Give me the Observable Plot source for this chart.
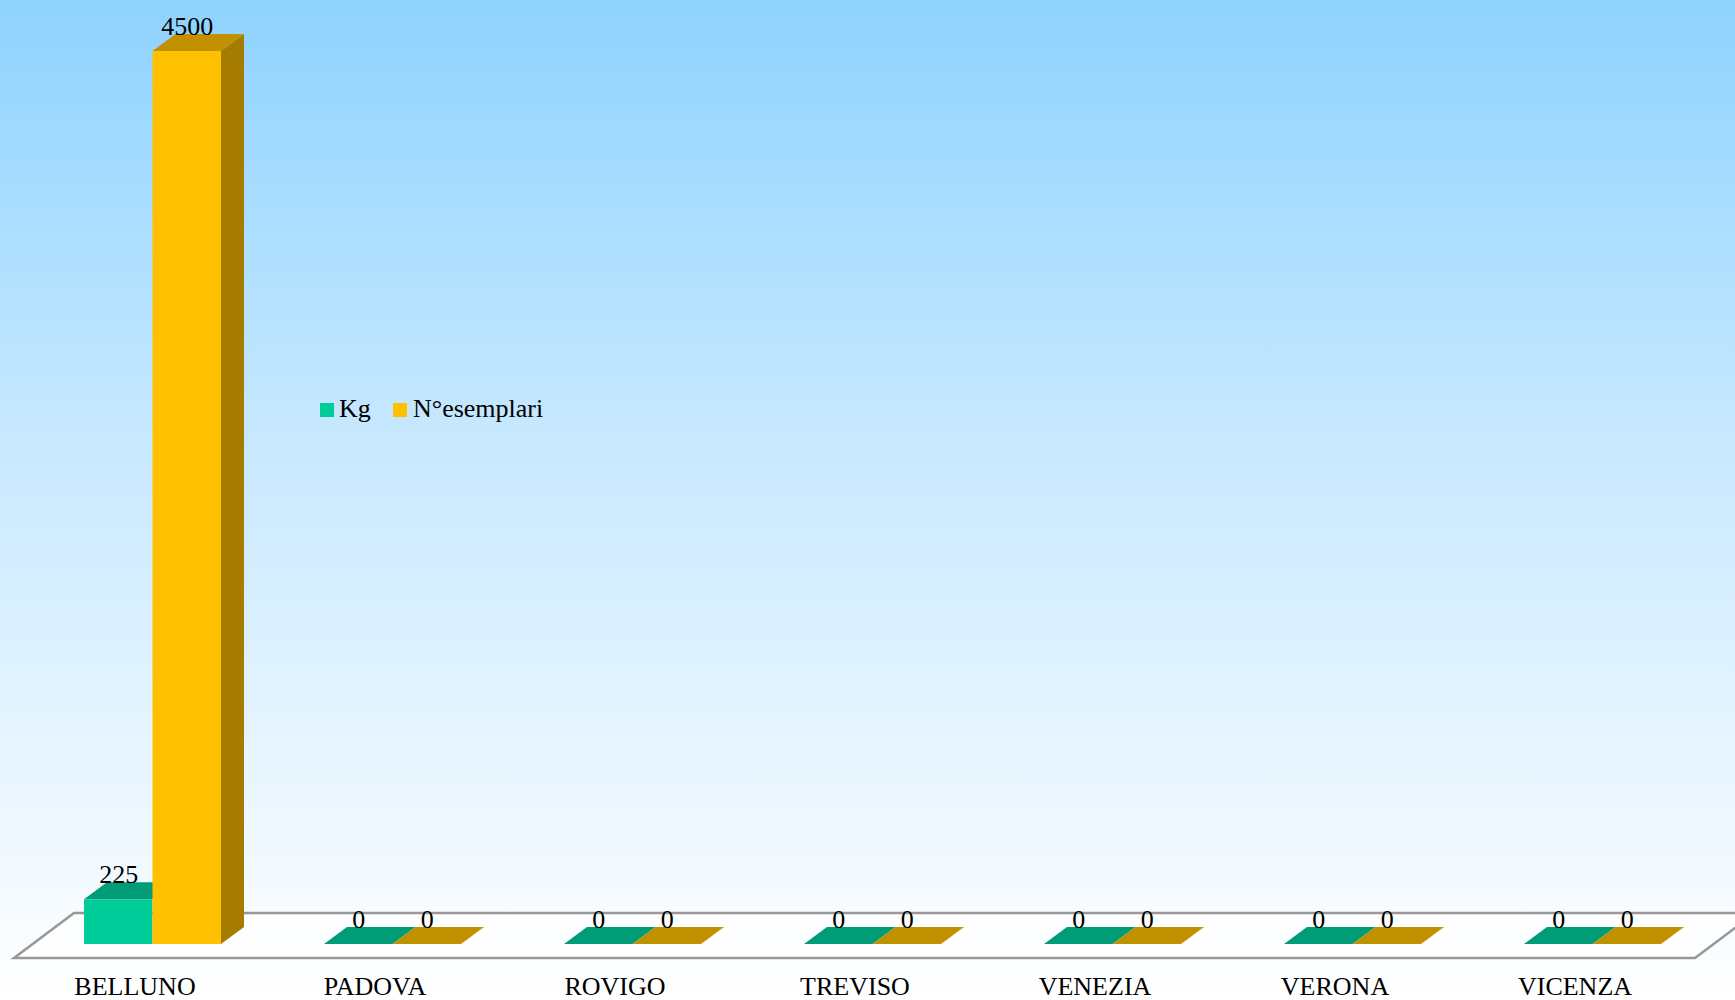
<!DOCTYPE html>
<html>
<head>
<meta charset="utf-8">
<script src="https://cdn.jsdelivr.net/npm/d3@7"></script>
<script src="https://cdn.jsdelivr.net/npm/@observablehq/plot@0.6"></script>
<style>
  html, body { margin: 0; padding: 0; }
  body {
    width: 1735px; height: 1000px; position: relative; overflow: hidden;
    background: linear-gradient(to bottom, #8ed3fe 0%, #c9e9ff 45%, #ffffff 100%);
    font-family: "Liberation Serif", "Times New Roman", serif;
  }
  #chart { position: absolute; left: 0; top: 0; }
  .lg-sw { position: absolute; width: 14px; height: 14px; }
  .lg-tx { position: absolute; font-size: 26px; line-height: 26px; color: #000; white-space: nowrap; }
</style>
</head>
<body>
<div id="chart"></div>
<div id="legend"></div>
<script>
// ---- data ----
const categories = ["BELLUNO", "PADOVA", "ROVIGO", "TREVISO", "VENEZIA", "VERONA", "VICENZA"];
const seriesNames = ["Kg", "N°esemplari"];
const kgValues = [225, 0, 0, 0, 0, 0, 0];
const esemplariValues = [4500, 0, 0, 0, 0, 0, 0];

// ---- styles ----
const frontColors = ["#00cc99", "#ffc000"];
const topColors = ["#009b77", "#c29100"];
const sideColors = ["#007a5e", "#a67c00"];

// ---- layout ----
const W = 1735, H = 1000;
const mL = 84, mR = 74, mT = 51, mB = 56;
const padInner = 103 / 240;
const step = (W - mL - mR) / (categories.length - padInner);
const bw = step * (1 - padInner);
const half = bw / 2;
const DX = 23, DY = -17; // 3D depth offset

const rows = [];
categories.forEach((c, i) => {
  rows.push({category: c, series: seriesNames[0], s: 0, value: kgValues[i]});
  rows.push({category: c, series: seriesNames[1], s: 1, value: esemplariValues[i]});
});
const kgRows = rows.filter(d => d.s === 0);
const esRows = rows.filter(d => d.s === 1);

function floorMark(index, scales, values, dimensions) {
  const [r0, r1] = scales.x.range();
  const y0 = scales.y(0);
  const fl = r0 - 70, fr = r1 + 34, fy = y0 + 14;
  const bx = 60, by = -45;
  const pts = [[fl, fy], [fr, fy], [fr + bx, fy + by], [fl + bx, fy + by]];
  const g = d3.create("svg:g");
  g.append("path")
    .attr("d", "M" + pts.map(p => p.join(",")).join("L") + "Z")
    .attr("fill", "#ffffff")
    .attr("fill-opacity", 0.6)
    .attr("stroke", "#979797")
    .attr("stroke-width", 2.5)
    .attr("stroke-linejoin", "miter");
  return g.node();
}

function facesMark(data, withSide) {
  return (index, scales) => {
    const b = scales.x.bandwidth ? scales.x.bandwidth() : bw;
    const g = d3.create("svg:g");
    for (const d of data) {
      const x0 = scales.x(d.category) + (d.s === 0 ? 0 : b / 2);
      const x1 = x0 + b / 2;
      const yb = scales.y(0);
      const yt = scales.y(d.value);
      if (withSide && d.value > 0) {
        g.append("path")
          .attr("d", `M${x1},${yt}L${x1 + DX},${yt + DY}L${x1 + DX},${yb + DY}L${x1},${yb}Z`)
          .attr("fill", sideColors[d.s]);
      }
      g.append("path")
        .attr("d", `M${x0},${yt}L${x1},${yt}L${x1 + DX},${yt + DY}L${x0 + DX},${yt + DY}Z`)
        .attr("fill", topColors[d.s]);
    }
    return g.node();
  };
}

const plot = Plot.plot({
  width: W,
  height: H,
  marginLeft: mL, marginRight: mR, marginTop: mT, marginBottom: mB,
  style: {background: "transparent", overflow: "visible", fontFamily: "'Liberation Serif', 'Times New Roman', serif"},
  x: {type: "band", domain: categories, paddingInner: padInner, paddingOuter: 0, round: false, axis: null},
  y: {domain: [0, 4500], axis: null},
  marks: [
    floorMark,
    Plot.barY(kgRows, {x: "category", y: "value", fill: frontColors[0], insetRight: half}),
    facesMark(kgRows, false),
    Plot.barY(esRows, {x: "category", y: "value", fill: frontColors[1], insetLeft: half}),
    facesMark(esRows, true),
    Plot.text(kgRows, {x: "category", y: "value", text: d => String(d.value), dx: -half / 2, dy: -17, lineAnchor: "bottom", fontSize: 26, fill: "#000"}),
    Plot.text(esRows, {x: "category", y: "value", text: d => String(d.value), dx: half / 2, dy: -17, lineAnchor: "bottom", fontSize: 26, fill: "#000"}),
    Plot.text(categories, {x: d => d, frameAnchor: "bottom", dx: -18, dy: 50, lineAnchor: "bottom", fontSize: 26, fill: "#000"})
  ]
});
document.getElementById("chart").appendChild(plot);

// legend
const legend = document.getElementById("legend");
const lgPos = [{sw: 320, tx: 339}, {sw: 393, tx: 413}];
seriesNames.forEach((name, i) => {
  const sw = document.createElement("div");
  sw.className = "lg-sw";
  sw.style.left = lgPos[i].sw + "px";
  sw.style.top = "403px";
  sw.style.background = frontColors[i];
  legend.appendChild(sw);
  const tx = document.createElement("div");
  tx.className = "lg-tx";
  tx.style.left = lgPos[i].tx + "px";
  tx.style.top = "396px";
  tx.textContent = name;
  legend.appendChild(tx);
});
</script>
</body>
</html>
